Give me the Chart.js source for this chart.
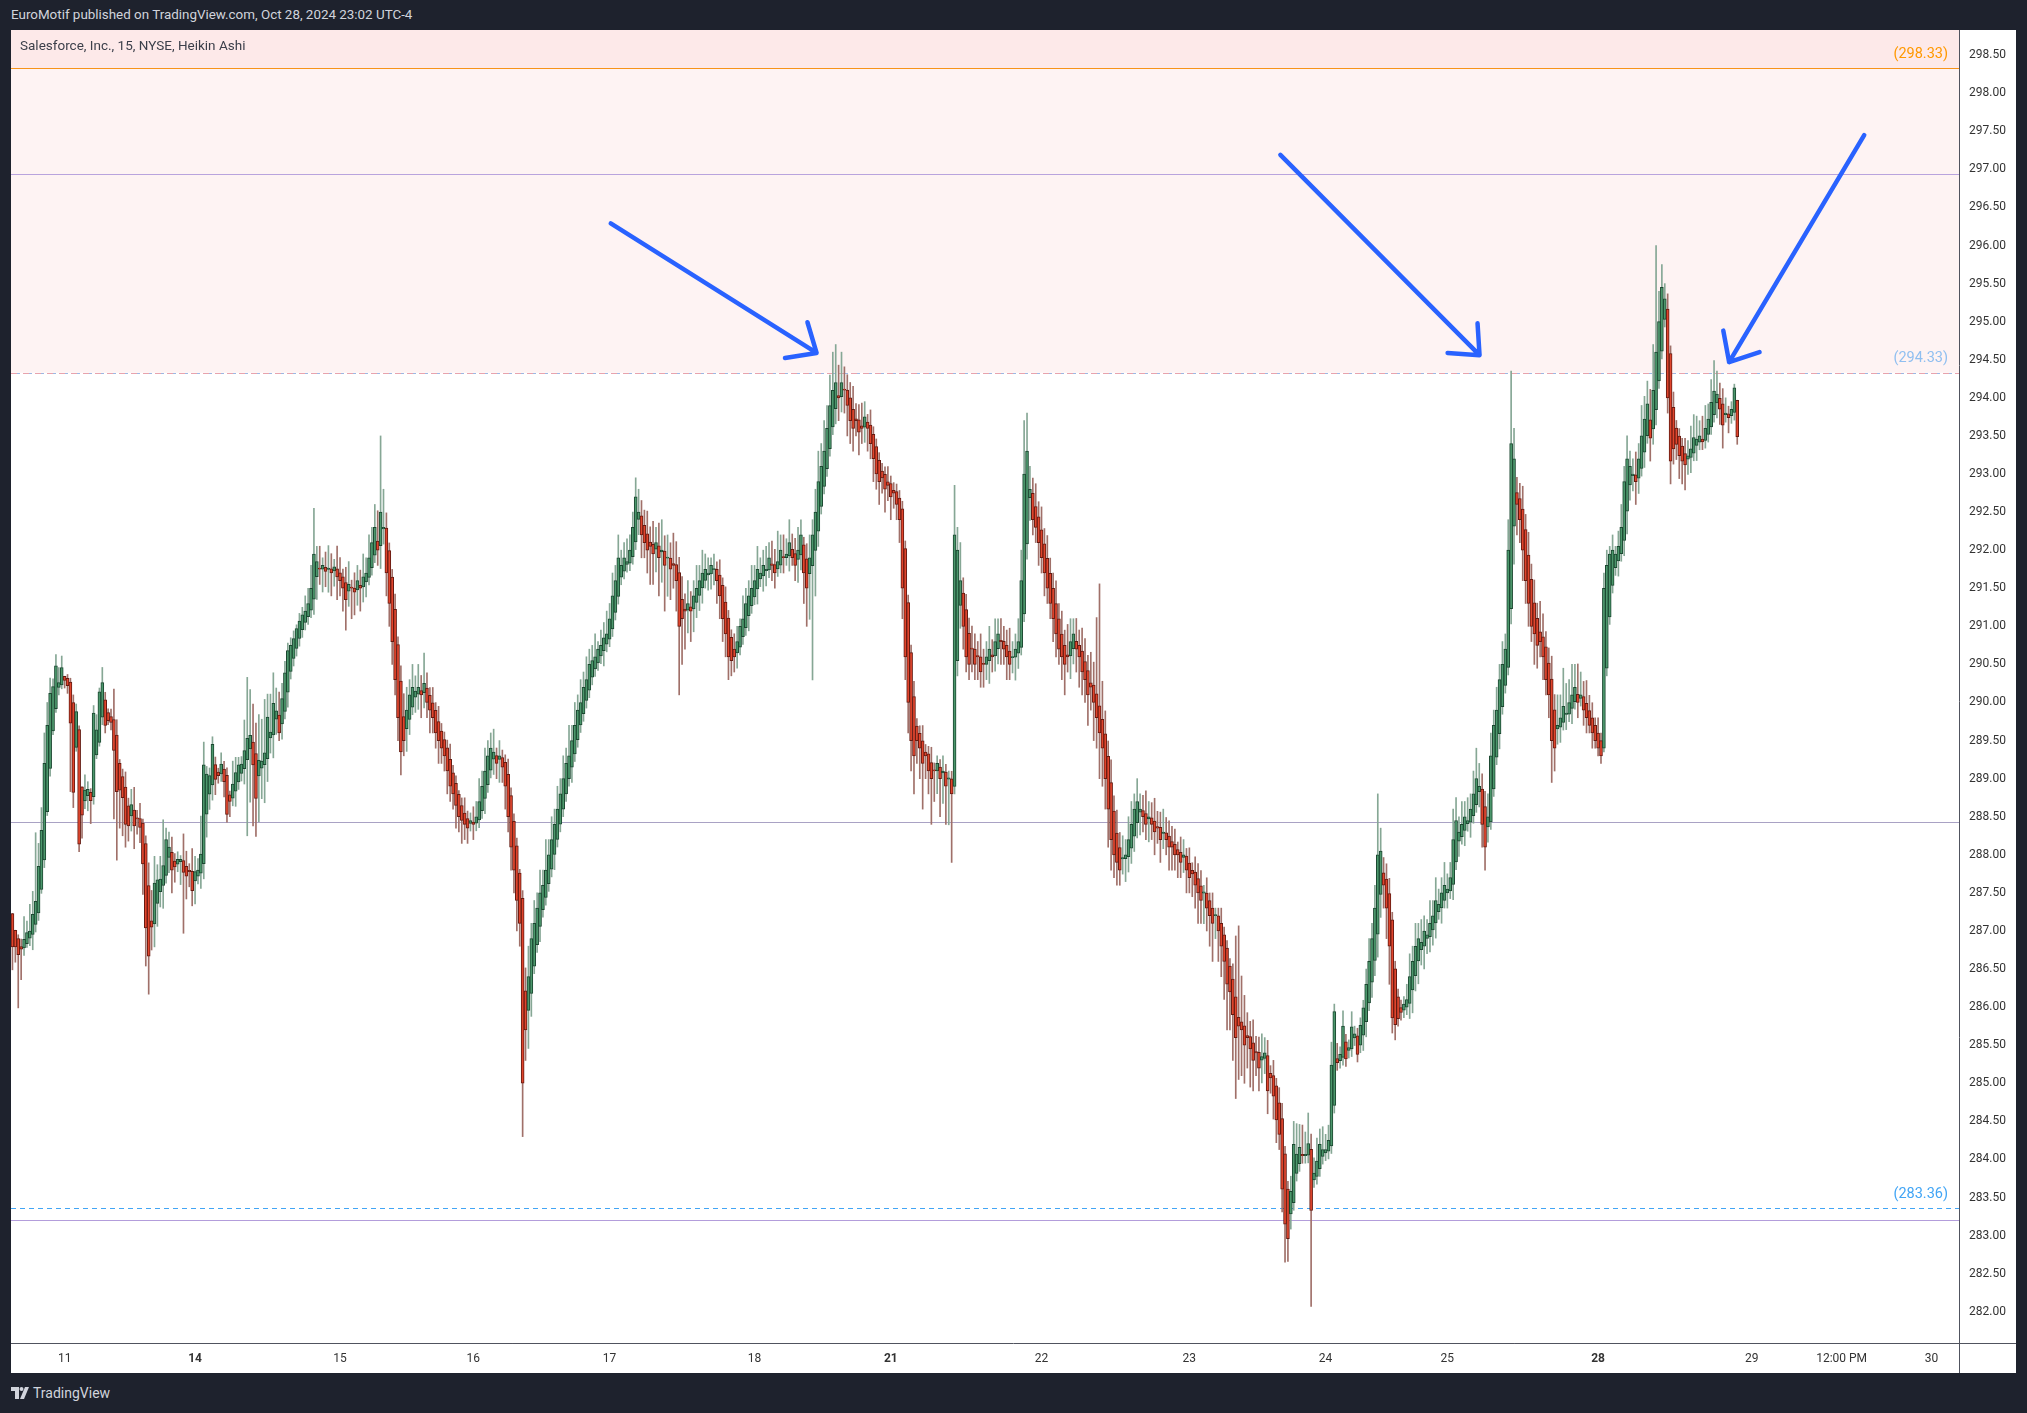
<!DOCTYPE html>
<html>
<head>
<meta charset="utf-8">
<script src="https://cdn.jsdelivr.net/npm/chart.js@4.4.1/dist/chart.umd.min.js"></script>
<style>
  html, body { margin: 0; padding: 0; width: 2027px; height: 1413px; overflow: hidden; background: #1e222d; font-family: Roboto, "Noto Sans", sans-serif; }
  #hdr { position: absolute; left: 11px; top: 7px; color: #d1d4dc; font-size: 13.4px; white-space: nowrap; }
  #wrap { position: absolute; left: 11px; top: 30px; width: 2005px; height: 1343px; background: #ffffff; }
  #foot { position: absolute; left: 11px; top: 1385px; color: #d1d4dc; font-size: 14px; display: flex; align-items: center; gap: 4px; }
</style>
</head>
<body>
<div id="hdr">EuroMotif published on TradingView.com, Oct 28, 2024 23:02 UTC-4</div>
<div id="wrap"><canvas id="chart"></canvas></div>
<div id="foot">
  <svg width="18" height="12" viewBox="0 0 18 12"><path d="M0 0h8v12H4V4H0z" fill="#d1d4dc"/><circle cx="10.5" cy="2" r="2" fill="#d1d4dc"/><path d="M14 0h4l-5 12H9z" fill="#d1d4dc"/></svg>
  <span>TradingView</span>
</div>
<script>
// Salesforce (CRM) 15 min Heikin Ashi - Chart.js

const N_SLOTS = 672;          // candle slots across the plot (rest is future space)
const FIRST_OPEN = 287.23;

// Heikin Ashi close per 15-min bar
const closes = [
  286.79, 286.79, 286.69, 286.76, 286.89, 286.98, 287.0, 287.22, 287.39, 287.85,
  288.32, 289.2, 289.7, 290.12, 290.21, 290.48, 290.26, 290.46, 290.29, 290.22,
  289.73, 288.82, 289.88, 288.14, 288.52, 288.85, 288.86, 288.71, 289.86, 289.64,
  290.14, 290.26, 289.7, 289.76, 289.74, 289.37, 288.83, 288.85, 288.75, 288.4,
  288.38, 288.66, 288.38, 288.47, 288.36, 287.88, 287.04, 286.67, 287.05, 287.63,
  287.67, 287.68, 287.86, 288.2, 288.1, 287.8, 287.84, 287.94, 287.94, 287.77,
  287.72, 287.78, 287.53, 287.78, 287.8, 288.01, 289.18, 289.06, 289.04, 289.45,
  288.99, 289.04, 289.19, 288.96, 288.53, 288.7, 288.93, 289.08, 289.18, 289.19,
  289.37, 289.53, 289.57, 289.18, 288.74, 289.24, 289.23, 289.34, 289.81, 289.61,
  289.99, 289.89, 289.6, 290.05, 290.39, 290.68, 290.75, 290.84, 290.97, 291.07,
  291.15, 291.2, 291.3, 291.5, 291.95, 291.85, 291.75, 291.8, 291.72, 291.76,
  291.7, 291.78, 291.65, 291.6, 291.5, 291.35, 291.55, 291.5, 291.45, 291.6,
  291.5, 291.65, 291.7, 291.9, 292.1, 292.3, 292.0, 292.5, 292.3, 291.7,
  291.3, 290.8, 290.3, 289.8, 289.35, 289.5, 289.9, 290.1, 290.2, 290.15,
  290.2, 290.1, 290.25, 290.0, 289.9, 289.8, 289.6, 289.5, 289.4, 289.3,
  289.1, 288.9, 288.8, 288.65, 288.5, 288.45, 288.4, 288.35, 288.45, 288.4,
  288.5, 288.7, 288.9, 289.1, 289.3, 289.4, 289.35, 289.2, 289.3, 289.15,
  288.9, 288.5, 288.1, 287.8, 287.4, 287.1, 285.0, 285.7, 286.4, 286.9,
  287.1, 287.3, 287.5, 287.6, 287.8, 288.0, 288.2, 288.4, 288.6, 288.8,
  289.0, 289.2, 289.3, 289.5, 289.7, 289.9, 290.0, 290.2, 290.3, 290.5,
  290.55, 290.6, 290.7, 290.75, 290.85, 290.9, 291.1, 291.4, 291.6, 291.9,
  291.8, 291.9, 291.85, 292.0, 292.3, 292.7, 292.5, 292.2, 292.1, 292.0,
  292.05, 291.95, 292.1, 291.9, 292.0, 291.8, 291.9, 291.75, 291.8, 291.6,
  291.0, 291.1, 291.2, 291.3, 291.2, 291.4, 291.5, 291.6, 291.7, 291.75,
  291.7, 291.8, 291.75, 291.6, 291.4, 291.1, 290.9, 290.6, 290.55, 290.6,
  290.8, 291.0, 291.1, 291.3, 291.4, 291.5, 291.6, 291.75, 291.7, 291.8,
  291.75, 291.9, 291.8, 291.7, 291.85, 292.0, 291.9, 291.95, 292.1, 291.9,
  291.8, 292.0, 292.2, 291.7, 291.5, 291.9, 292.2, 292.5, 292.9, 293.1,
  293.3, 293.6, 293.9, 294.1, 294.2, 294.0, 294.2, 294.1, 293.9, 293.7,
  293.6, 293.7, 293.55, 293.6, 293.75, 293.6, 293.4, 293.2, 293.0, 292.9,
  292.95, 292.8, 292.85, 292.7, 292.75, 292.6, 292.4, 291.5, 290.6, 290.0,
  289.5, 289.3, 289.5, 289.4, 289.2, 289.3, 289.1, 289.0, 289.1, 289.2,
  289.0, 289.1, 288.9, 289.0, 288.8, 292.2, 292.0, 291.6, 291.0, 290.6,
  290.5, 290.7, 290.5, 290.6, 290.4, 290.5, 290.6, 290.7, 290.6, 290.8,
  290.9, 290.8, 290.7, 290.6, 290.5, 290.6, 290.7, 290.8, 291.6, 293.0,
  293.3, 292.8, 292.4, 292.3, 292.1, 291.9, 291.7, 291.5, 291.3, 291.1,
  290.9, 290.7, 290.6, 290.5, 290.6, 290.8, 290.9, 290.7, 290.6, 290.4,
  290.3, 290.1, 290.2, 290.0, 289.8, 289.6, 289.4, 289.0, 288.6, 288.2,
  288.0, 287.9, 287.8, 287.95, 288.0, 288.2, 288.4, 288.6, 288.7, 288.6,
  288.5, 288.4, 288.5, 288.4, 288.3, 288.35, 288.2, 288.3, 288.2, 288.1,
  288.1, 288.0, 288.0, 287.9, 288.0, 287.8, 287.7, 287.75, 287.6, 287.5,
  287.4, 287.5, 287.3, 287.2, 287.1, 287.2, 287.0, 286.8, 286.6, 286.3,
  286.2, 285.9, 285.6, 285.75, 285.7, 285.5, 285.6, 285.45, 285.3, 285.4,
  285.2, 285.35, 285.4, 284.9, 285.07, 284.83, 284.52, 284.33, 283.61, 283.15,
  282.96, 283.58, 284.2, 284.07, 284.16, 284.05, 284.06, 284.21, 283.33, 283.82,
  283.98, 284.2, 284.13, 284.13, 284.25, 285.24, 285.94, 285.27, 285.38, 285.75,
  285.32, 285.47, 285.74, 285.65, 285.38, 285.76, 285.99, 286.3, 286.6, 286.9,
  287.3, 288.0, 288.05, 287.6, 287.3, 286.8, 285.86, 285.77, 285.85, 285.93,
  286.04, 286.1, 286.4, 286.6, 286.8, 286.9, 286.85, 287.0, 286.95, 287.1,
  287.2, 287.4, 287.35, 287.5, 287.6, 287.55, 287.7, 288.2, 288.45, 288.3,
  288.4, 288.5, 288.45, 288.6, 288.8, 289.0, 288.9, 288.4, 288.1, 288.5,
  289.3, 289.7, 289.9, 290.3, 290.5, 290.7, 292.0, 293.4, 293.2, 292.6,
  292.4, 292.0, 291.6, 291.3, 291.0, 290.9, 290.75, 290.8, 290.6, 290.3,
  290.1, 289.5, 289.4, 289.7, 289.8, 289.95, 289.85, 290.0, 290.1, 290.2,
  290.0, 290.1, 289.9, 289.8, 289.7, 289.6, 289.5, 289.4, 289.3, 291.5,
  291.8, 291.95, 292.0, 291.95, 292.05, 292.3, 292.9, 293.2, 293.1, 293.0,
  292.9, 293.2, 293.5, 293.72, 293.92, 293.47, 294.1, 294.6, 295.0, 295.45,
  295.3, 294.0, 293.17, 293.33, 293.39, 293.24, 293.17, 293.12, 293.24, 293.33,
  293.48, 293.46, 293.5, 293.42, 293.6, 293.72, 293.94, 294.09, 294.05, 293.85,
  293.64, 293.8, 293.74, 293.85, 294.13, 293.49
];

// upper wick length above the body (price units)
const wickUp = [
  0, 0, 0.05, 0.1, 0.3, 0.15, 0.35, 0.3, 0.9, 0.3,
  0.3, 0.4, 0.3, 0.2, 0.1, 0.15, 0.2, 0.15, 0, 0.05,
  0.05, 0.1, 0.1, 0.05, 0, 0.2, 0.1, 0.05, 0.1, 0.2,
  0.05, 0.2, 0.1, 0.05, 0.1, 0.4, 0.2, 0.05, 0.1, 0.2,
  0.1, 0.2, 0.3, 0.1, 0.2, 0.05, 0.1, 0.3, 0.4, 0.35,
  0.2, 0.3, 0.6, 0.15, 0.2, 0.2, 0.1, 0.1, 0.05, 0.35,
  0.2, 0.1, 0.3, 0.2, 0.15, 0.5, 0.3, 0.1, 0.1, 0.1,
  0.1, 0.05, 0.15, 0.1, 0.1, 0.05, 0.3, 0.2, 0.1, 0.1,
  0.4, 0.8, 0.6, 0.5, 0.4, 0.6, 0.55, 0.7, 0.3, 0.5,
  0.4, 0.3, 0.3, 0.2, 0.15, 0.1, 0.1, 0.1, 0.05, 0.1,
  0.1, 0.2, 0.2, 0.3, 0.6, 0.2, 0.3, 0.1, 0.2, 0.3,
  0.2, 0.1, 0.3, 0.2, 0.1, 0.2, 0.3, 0.1, 0.2, 0.2,
  0.2, 0.3, 0.2, 0.3, 0.2, 0.3, 0.4, 1.0, 0.5, 0.2,
  0.1, 0.1, 0.2, 0.1, 0.2, 0.3, 0.3, 0.2, 0.3, 0.2,
  0.3, 0.2, 0.4, 0.2, 0.1, 0.2, 0.1, 0.2, 0.1, 0.1,
  0.1, 0.2, 0.1, 0.1, 0.05, 0.1, 0.2, 0.1, 0.1, 0.2,
  0.2, 0.3, 0.2, 0.3, 0.2, 0.2, 0.3, 0.1, 0.2, 0.1,
  0.1, 0.2, 0.1, 0.1, 0.1, 0.05, 0.1, 0.3, 0.4, 0.2,
  0.3, 0.2, 0.3, 0.2, 0.4, 0.2, 0.3, 0.2, 0.3, 0.2,
  0.3, 0.2, 0.4, 0.2, 0.3, 0.2, 0.3, 0.2, 0.3, 0.2,
  0.2, 0.3, 0.1, 0.2, 0.2, 0.3, 0.2, 0.3, 0.2, 0.3,
  0.2, 0.2, 0.3, 0.2, 0.2, 0.25, 0.3, 0.2, 0.2, 0.3,
  0.2, 0.3, 0.2, 0.3, 0.4, 0.2, 0.3, 0.2, 0.4, 0.3,
  0.2, 0.3, 0.2, 0.3, 0.2, 0.2, 0.3, 0.2, 0.3, 0.2,
  0.2, 0.1, 0.2, 0.1, 0.2, 0.1, 0.2, 0.1, 0.1, 0.2,
  0.2, 0.1, 0.3, 0.2, 0.2, 0.3, 0.2, 0.3, 0.2, 0.2,
  0.3, 0.2, 0.3, 0.2, 0.4, 0.2, 0.3, 0.2, 0.3, 0.2,
  0.2, 0.3, 0.2, 0.1, 0.2, 0.3, 0.2, 0.3, 0.4, 0.3,
  0.4, 0.3, 0.4, 0.5, 0.5, 0.4, 0.4, 0.3, 0.2, 0.2,
  0.3, 0.2, 0.2, 0.3, 0.2, 0.1, 0.2, 0.1, 0.1, 0.1,
  0.1, 0.1, 0.2, 0.1, 0.1, 0.1, 0.1, 0.1, 0.1, 0.1,
  0.1, 0.2, 0.1, 0.1, 0.2, 0.1, 0.1, 0.2, 0.1, 0.1,
  0.1, 0.2, 0.1, 0.1, 0.1, 0.65, 0.3, 0.5, 0.2, 0.2,
  0.2, 0.3, 0.2, 0.2, 0.3, 0.2, 0.2, 0.3, 0.2, 0.3,
  0.2, 0.3, 0.2, 0.2, 0.3, 0.2, 0.2, 0.3, 0.4, 0.7,
  0.5, 0.3, 0.2, 0.3, 0.2, 0.3, 0.2, 0.3, 0.2, 0.2,
  0.3, 0.2, 0.3, 0.2, 0.4, 0.3, 0.2, 0.3, 0.2, 0.3,
  0.3, 0.2, 0.4, 0.3, 1.0, 1.6, 0.5, 0.3, 0.2, 0.3,
  0.2, 0.3, 0.2, 0.3, 0.2, 0.3, 0.3, 0.2, 0.3, 0.2,
  0.2, 0.3, 0.2, 0.2, 0.3, 0.2, 0.2, 0.3, 0.2, 0.2,
  0.2, 0.2, 0.1, 0.2, 0.2, 0.1, 0.2, 0.1, 0.2, 0.2,
  0.2, 0.1, 0.2, 0.1, 0.2, 0.1, 0.1, 0.2, 0.1, 0.1,
  0.1, 0.2, 0.8, 1.2, 0.6, 0.4, 0.3, 0.2, 0.3, 0.2,
  0.2, 0.3, 0.2, 0.2, 0.1, 0.2, 0.1, 0.2, 0.2, 0.1,
  0.1, 0.2, 0.3, 0.4, 0.3, 0.4, 0.3, 0.4, 0.2, 0.2,
  0.3, 0.2, 0.3, 0.2, 0.2, 0.3, 0.1, 0.2, 0.1, 0.2,
  0.1, 0.1, 0.2, 0.1, 0.1, 0.1, 0.1, 0.2, 0.3, 0.2,
  0.3, 0.8, 0.3, 0.2, 0.2, 0.2, 0.1, 0.1, 0.1, 0.1,
  0.1, 0.2, 0.3, 0.2, 0.3, 0.2, 0.3, 0.2, 0.2, 0.3,
  0.2, 0.3, 0.2, 0.2, 0.3, 0.2, 0.2, 0.4, 0.3, 0.2,
  0.3, 0.2, 0.3, 0.2, 0.3, 0.4, 0.3, 0.2, 0.2, 0.3,
  0.3, 0.2, 0.3, 0.2, 0.3, 0.2, 0.4, 0.95, 0.4, 0.2,
  0.2, 0.3, 0.2, 0.3, 0.2, 0.3, 0.2, 0.4, 0.3, 0.2,
  0.2, 0.3, 0.2, 0.4, 0.3, 0.5, 0.4, 0.3, 0.4, 0.3,
  0.4, 0.3, 0.2, 0.3, 0.2, 0.2, 0.1, 0.2, 0.1, 0.2,
  0.2, 0.1, 0.2, 0.1, 0.2, 0.3, 0.2, 0.3, 0.2, 0.2,
  0.3, 0.2, 0.4, 0.3, 0.3, 0.4, 0.6, 1.4, 0.4, 0.3,
  0.2, 0.2, 0.1, 0.2, 0.1, 0.1, 0.1, 0.2, 0.2, 0.3,
  0.3, 0.3, 0.2, 0.3, 0.3, 0.2, 0.3, 0.4, 0.3, 0.2,
  0.2, 0.2, 0.1, 0.1, 0.05, 0
];

// lower wick length below the body (price units)
const wickDown = [
  0.3, 0.2, 0.7, 0.4, 0.1, 0.05, 0.1, 0.2, 0.1, 0.1,
  0.05, 0.1, 0.05, 0.1, 0.05, 0.05, 0.1, 0.05, 0.1, 0.1,
  0.9, 0.2, 0.05, 0.1, 0.3, 0.1, 0.2, 0.3, 0.1, 0.05,
  0.05, 0.1, 0.1, 0.05, 0.1, 0.9, 0.9, 0.5, 0.5, 0.3,
  0.2, 0.2, 0.3, 0.2, 0.2, 0.4, 0.5, 0.5, 0.3, 0.3,
  0.3, 0.2, 0.3, 0.1, 0.2, 0.3, 0.2, 0.1, 0.3, 0.8,
  0.3, 0.2, 0.2, 0.3, 0.1, 0.2, 0.2, 0.3, 0.2, 0.2,
  0.2, 0.1, 0.1, 0.2, 0.1, 0.2, 0.1, 0.2, 0.1, 0.1,
  0.2, 1.0, 0.7, 0.8, 0.5, 0.6, 0.4, 0.5, 0.3, 0.2,
  0.3, 0.2, 0.1, 0.2, 0.1, 0.2, 0.1, 0.1, 0.1, 0.1,
  0.1, 0.1, 0.1, 0.1, 0.2, 0.3, 0.2, 0.3, 0.2, 0.3,
  0.3, 0.2, 0.3, 0.2, 0.3, 0.4, 0.2, 0.4, 0.3, 0.2,
  0.3, 0.2, 0.2, 0.1, 0.1, 0.1, 0.2, 0.3, 0.2, 0.3,
  0.3, 0.3, 0.2, 0.3, 0.3, 0.2, 0.3, 0.2, 0.1, 0.2,
  0.2, 0.3, 0.2, 0.2, 0.3, 0.2, 0.2, 0.3, 0.2, 0.2,
  0.3, 0.2, 0.2, 0.3, 0.2, 0.3, 0.2, 0.2, 0.1, 0.2,
  0.1, 0.1, 0.1, 0.2, 0.1, 0.1, 0.2, 0.2, 0.3, 0.2,
  0.3, 0.2, 0.3, 0.3, 0.4, 0.3, 0.7, 0.4, 0.5, 0.3,
  0.1, 0.1, 0.2, 0.1, 0.1, 0.1, 0.1, 0.2, 0.1, 0.1,
  0.1, 0.1, 0.1, 0.2, 0.1, 0.1, 0.1, 0.1, 0.1, 0.1,
  0.1, 0.1, 0.1, 0.1, 0.2, 0.1, 0.1, 0.1, 0.1, 0.1,
  0.1, 0.1, 0.1, 0.1, 0.1, 0.1, 0.2, 0.3, 0.2, 0.3,
  0.5, 0.4, 0.3, 0.5, 0.4, 0.6, 0.5, 0.4, 0.3, 0.4,
  0.9, 0.6, 0.5, 0.3, 0.4, 0.3, 0.2, 0.2, 0.2, 0.1,
  0.2, 0.2, 0.2, 0.3, 0.3, 0.3, 0.3, 0.3, 0.2, 0.2,
  0.2, 0.1, 0.1, 0.1, 0.2, 0.1, 0.1, 0.2, 0.1, 0.2,
  0.2, 0.1, 0.2, 0.2, 0.1, 0.1, 0.2, 0.1, 0.2, 0.1,
  0.2, 0.3, 0.2, 0.4, 0.5, 0.6, 1.5, 0.6, 0.2, 0.1,
  0.1, 0.1, 0.1, 0.1, 0.2, 0.3, 0.2, 0.3, 0.4, 0.3,
  0.3, 0.2, 0.3, 0.2, 0.2, 0.3, 0.2, 0.3, 0.2, 0.3,
  0.2, 0.3, 0.2, 0.3, 0.2, 0.2, 0.3, 0.4, 0.3, 0.4,
  0.4, 0.5, 0.3, 0.4, 0.6, 0.3, 0.3, 0.6, 0.4, 0.3,
  0.5, 0.4, 0.5, 0.6, 0.9, 0.1, 0.2, 0.3, 0.3, 0.2,
  0.2, 0.3, 0.2, 0.3, 0.2, 0.3, 0.2, 0.3, 0.2, 0.2,
  0.2, 0.3, 0.2, 0.3, 0.2, 0.2, 0.3, 0.2, 0.1, 0.1,
  0.2, 0.3, 0.2, 0.2, 0.3, 0.2, 0.3, 0.2, 0.2, 0.3,
  0.3, 0.2, 0.3, 0.4, 0.2, 0.3, 0.2, 0.3, 0.4, 0.3,
  0.3, 0.4, 0.3, 0.5, 0.4, 0.6, 0.5, 0.4, 0.5, 0.4,
  0.3, 0.3, 0.2, 0.2, 0.3, 0.2, 0.2, 0.2, 0.2, 0.3,
  0.2, 0.2, 0.3, 0.2, 0.3, 0.2, 0.3, 0.2, 0.2, 0.3,
  0.3, 0.2, 0.3, 0.2, 0.2, 0.3, 0.2, 0.3, 0.3, 0.4,
  0.3, 0.4, 0.3, 0.4, 0.5, 0.3, 0.4, 0.4, 0.5, 0.6,
  0.5, 0.6, 0.8, 0.7, 0.6, 0.5, 0.4, 0.5, 0.4, 0.3,
  0.3, 0.3, 0.2, 0.3, 0.2, 0.3, 0.3, 0.2, 0.3, 0.5,
  0.3, 0.2, 0.1, 0.1, 0.1, 0.1, 0.1, 0.1, 1.26, 0.1,
  0.1, 0.1, 0.1, 0.1, 0.1, 0.1, 0.1, 0.1, 0.1, 0.1,
  0.1, 0.1, 0.1, 0.1, 0.1, 0.1, 0.2, 0.2, 0.1, 0.2,
  0.2, 0.3, 0.3, 0.3, 0.4, 0.5, 0.2, 0.2, 0.1, 0.1,
  0.1, 0.1, 0.2, 0.3, 0.2, 0.3, 0.2, 0.3, 0.2, 0.2,
  0.2, 0.2, 0.1, 0.2, 0.1, 0.2, 0.1, 0.2, 0.1, 0.2,
  0.1, 0.2, 0.1, 0.2, 0.1, 0.1, 0.2, 0.3, 0.3, 0.2,
  0.1, 0.1, 0.1, 0.2, 0.1, 0.1, 0.1, 0.2, 0.5, 0.4,
  0.3, 0.4, 0.3, 0.3, 0.2, 0.4, 0.3, 0.2, 0.3, 0.2,
  0.3, 0.55, 0.3, 0.2, 0.2, 0.1, 0.2, 0.1, 0.2, 0.1,
  0.2, 0.1, 0.2, 0.2, 0.1, 0.2, 0.1, 0.1, 0.1, 0.05,
  0.1, 0.1, 0.1, 0.1, 0.2, 0.1, 0.2, 0.3, 0.2, 0.2,
  0.3, 0.2, 0.1, 0.2, 0.1, 0.3, 0.2, 0.2, 0.1, 0.1,
  0.1, 0.2, 0.3, 0.2, 0.2, 0.3, 0.3, 0.33, 0.2, 0.2,
  0.1, 0.2, 0.1, 0.1, 0.1, 0.1, 0.1, 0.1, 0.2, 0.2,
  0.3, 0.1, 0.2, 0.1, 0.1, 0.1
];

// time axis
const tickIdx  = [18, 63, 113, 159, 206, 256, 303, 355, 406, 453, 495, 547, 600, 631, 662];
const tickText = ['11', '14', '15', '16', '17', '18', '21', '22', '23', '24', '25', '28', '29', '12:00 PM', '30'];
const boldTicks = ['14', '21', '28'];

// price axis
const PRICE_MIN = 281.59;
const PRICE_MAX = 298.83;
const priceTicks = [];
for (let v = 282; v <= 298.5001; v += 0.5) priceTicks.push(Math.round(v * 100) / 100);

// drawn levels
const zoneTop = 298.33;
const zoneBottom = 294.33;
const upperLine = 296.94;
const midLine = 288.43;
const supportLine = 283.36;
const lowLine = 283.21;

// arrows: [slot, price]
const arrowFrom = [[206.4, 296.29], [437.4, 297.19], [638.8, 297.45]];
const arrowTo   = [[277.4, 294.59], [506.1, 294.56], [592.2, 294.47]];

// ---- build chart data ----
const opens = [];
closes.forEach((c, i) => {
    opens.push(i === 0 ? FIRST_OPEN : (opens[i - 1] + closes[i - 1]) / 2);
});

const labels = new Array(N_SLOTS).fill('');
tickIdx.forEach((idx, k) => { labels[idx] = tickText[k]; });

const bodies = [], wicks = [], bodyFill = [], bodyEdge = [], wickCol = [];
for (let i = 0; i < N_SLOTS; i++) {
    if (i >= closes.length) {
        bodies.push(null); wicks.push(null);
        bodyFill.push('#fff'); bodyEdge.push('#fff'); wickCol.push('#fff');
        continue;
    }
    const o = opens[i], c = closes[i];
    const up = c >= o;
    bodies.push([o, c]);
    wicks.push([Math.min(o, c) - (wickDown[i] || 0), Math.max(o, c) + (wickUp[i] || 0)]);
    bodyFill.push(up ? '#4c976c' : '#e0452d');
    bodyEdge.push(up ? '#1b4730' : '#641a11');
    wickCol.push(up ? '#86a795' : '#a07069');
}

const FONT = 'Roboto, "Noto Sans", sans-serif';

const overlay = {
    id: 'overlay',
    beforeDatasetsDraw(chart) {
        const { ctx, chartArea: a, scales: { y } } = chart;
        ctx.save();
        // pink resistance zone
        ctx.fillStyle = '#fde9e9';
        ctx.fillRect(a.left, a.top, a.width, y.getPixelForValue(zoneTop) - a.top);
        ctx.fillStyle = '#fef3f3';
        ctx.fillRect(a.left, y.getPixelForValue(zoneTop), a.width, y.getPixelForValue(zoneBottom) - y.getPixelForValue(zoneTop));

        const hline = (v, color, dash) => {
            const py = Math.round(y.getPixelForValue(v)) + 0.5;
            ctx.beginPath();
            ctx.setLineDash(dash || []);
            ctx.strokeStyle = color;
            ctx.lineWidth = 1;
            ctx.moveTo(a.left, py);
            ctx.lineTo(a.right, py);
            ctx.stroke();
        };
        hline(zoneTop, '#f7931a');
        hline(upperLine, '#b9a3dd');
        hline(zoneBottom, '#e8a3ad', [6, 6]);
        ctx.lineDashOffset = 6;
        hline(zoneBottom, '#9db8e3', [3, 9]);
        ctx.lineDashOffset = 0;
        hline(midLine, '#a9a2c4');
        hline(supportLine, '#42a5f5', [5, 4]);
        hline(lowLine, '#b39ddb');
        ctx.restore();
    },
    afterDatasetsDraw(chart) {
        const { ctx, chartArea: a, scales: { x, y } } = chart;
        ctx.save();
        // arrows
        ctx.strokeStyle = '#2962ff';
        ctx.lineWidth = 4.5;
        ctx.lineCap = 'round';
        ctx.lineJoin = 'round';
        arrowFrom.forEach((f, k) => {
            const t = arrowTo[k];
            const x0 = x.getPixelForValue(f[0]), y0 = y.getPixelForValue(f[1]);
            const x1 = x.getPixelForValue(t[0]), y1 = y.getPixelForValue(t[1]);
            const ang = Math.atan2(y1 - y0, x1 - x0);
            const head = 32, spread = 0.72;
            ctx.beginPath();
            ctx.moveTo(x0, y0);
            ctx.lineTo(x1, y1);
            ctx.moveTo(x1 - head * Math.cos(ang - spread), y1 - head * Math.sin(ang - spread));
            ctx.lineTo(x1, y1);
            ctx.lineTo(x1 - head * Math.cos(ang + spread), y1 - head * Math.sin(ang + spread));
            ctx.stroke();
        });

        // level labels
        ctx.font = '14.5px ' + FONT;
        ctx.textAlign = 'right';
        ctx.textBaseline = 'middle';
        ctx.fillStyle = '#ff9800';
        ctx.fillText('(' + zoneTop.toFixed(2) + ')', a.right - 11, y.getPixelForValue(zoneTop) - 14);
        ctx.fillStyle = '#90bff0';
        ctx.fillText('(' + zoneBottom.toFixed(2) + ')', a.right - 11, y.getPixelForValue(zoneBottom) - 14);
        ctx.fillStyle = '#42a5f5';
        ctx.fillText('(' + supportLine.toFixed(2) + ')', a.right - 11, y.getPixelForValue(supportLine) - 14);

        // symbol title
        ctx.textAlign = 'left';
        ctx.fillStyle = '#3b3f4a';
        ctx.font = '13.5px ' + FONT;
        ctx.fillText('Salesforce, Inc., 15, NYSE, Heikin Ashi', a.left + 9, a.top + 17);

        // pane separators
        ctx.strokeStyle = '#50535e';
        ctx.lineWidth = 1;
        ctx.beginPath();
        ctx.moveTo(Math.round(a.right) + 0.5, 0);
        ctx.lineTo(Math.round(a.right) + 0.5, chart.height);
        ctx.moveTo(0, Math.round(a.bottom) + 0.5);
        ctx.lineTo(chart.width, Math.round(a.bottom) + 0.5);
        ctx.stroke();
        ctx.restore();
    }
};

new Chart(document.getElementById('chart').getContext('2d'), {
    type: 'bar',
    data: {
        labels: labels,
        datasets: [
            {
                label: 'body',
                data: bodies,
                backgroundColor: bodyFill,
                borderColor: bodyEdge,
                borderWidth: 1,
                borderSkipped: false,
                barThickness: 3,
                minBarLength: 1.2,
                grouped: false,
                order: 1
            },
            {
                label: 'wick',
                data: wicks,
                backgroundColor: wickCol,
                borderWidth: 0,
                barThickness: 1,
                grouped: false,
                order: 2
            }
        ]
    },
    options: {
        responsive: true,
        maintainAspectRatio: false,
        animation: false,
        layout: { padding: 0 },
        plugins: { legend: { display: false }, tooltip: { enabled: false } },
        scales: {
            x: {
                grid: { display: false, drawTicks: false },
                border: { display: false },
                afterFit(scale) {
                    scale.height = 30;
                    scale.paddingLeft = 0;
                    scale.paddingRight = 0;
                },
                ticks: {
                    autoSkip: false,
                    maxRotation: 0,
                    minRotation: 0,
                    padding: 9,
                    color: '#333',
                    font: (ctx) => ({
                        family: FONT,
                        size: 12,
                        weight: ctx.tick && boldTicks.includes(ctx.tick.label) ? 'bold' : 'normal'
                    }),
                    callback: (v, i) => labels[i] || null
                }
            },
            y: {
                position: 'right',
                min: PRICE_MIN,
                max: PRICE_MAX,
                grid: { display: false, drawTicks: false },
                border: { display: false },
                afterFit(scale) {
                    scale.width = 57;
                    scale.paddingTop = 0;
                    scale.paddingBottom = 0;
                },
                afterBuildTicks(scale) { scale.ticks = priceTicks.map(v => ({ value: v })); },
                ticks: {
                    padding: 10,
                    color: '#333',
                    font: { family: FONT, size: 12 },
                    callback: (v) => Number(v).toFixed(2)
                }
            }
        }
    },
    plugins: [overlay]
});
</script>
</body>
</html>
